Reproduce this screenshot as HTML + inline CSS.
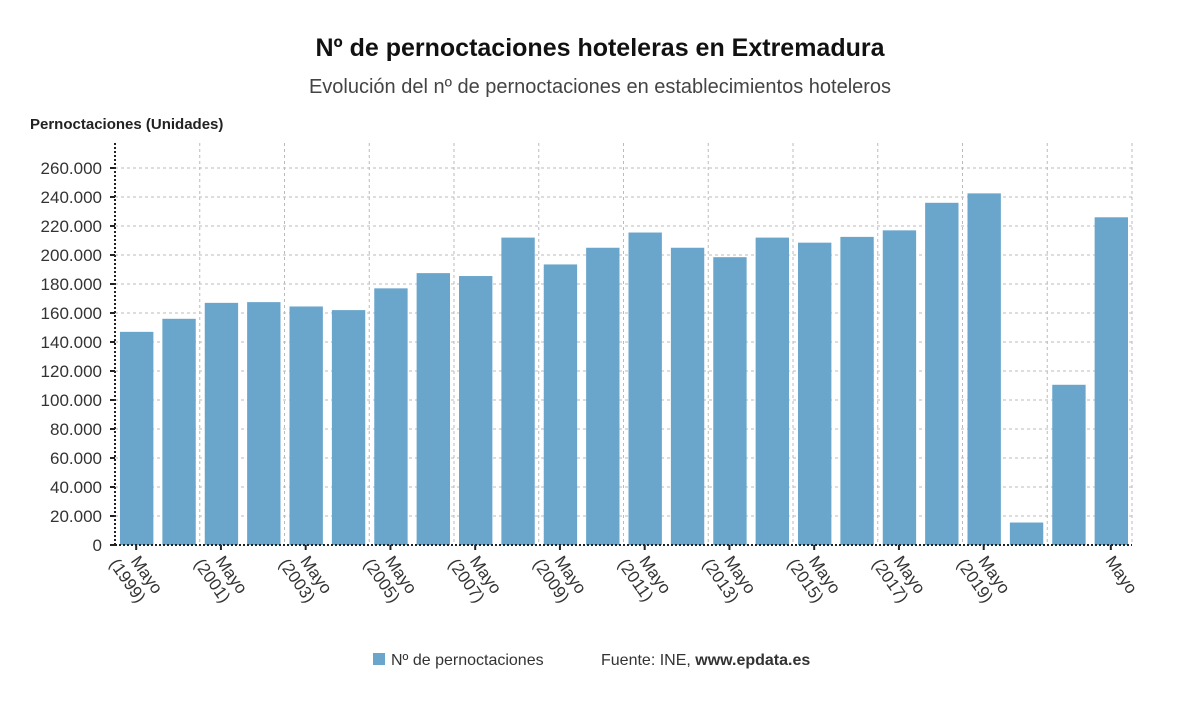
<!DOCTYPE html>
<html><head><meta charset="utf-8"><style>
body{margin:0;background:#fff;font-family:"Liberation Sans",sans-serif;}
</style></head><body>
<svg width="1200" height="705" xmlns="http://www.w3.org/2000/svg" font-family="Liberation Sans, sans-serif">
<text x="600" y="56" text-anchor="middle" font-size="25" font-weight="bold" fill="#111">Nº de pernoctaciones hoteleras en Extremadura</text>
<text x="600" y="93" text-anchor="middle" font-size="20" fill="#444">Evolución del nº de pernoctaciones en establecimientos hoteleros</text>
<text x="30" y="129" font-size="15" font-weight="bold" fill="#222">Pernoctaciones (Unidades)</text>
<g id="grid"></g><g id="bars"></g><g id="axes"></g>
<g>
<rect x="373" y="653" width="12" height="12" fill="#6aa6cb"/>
<text x="391" y="665" font-size="16" fill="#333">Nº de pernoctaciones</text>
<text x="601" y="665" font-size="16" fill="#333">Fuente: INE, <tspan font-weight="bold">www.epdata.es</tspan></text>
</g>
</svg>
<script>
const years=[1999,2000,2001,2002,2003,2004,2005,2006,2007,2008,2009,2010,2011,2012,2013,2014,2015,2016,2017,2018,2019,2020,2021,2022];
const values=[147000,156000,167000,167500,164500,162000,177000,187500,185500,212000,193500,205000,215500,205000,198500,212000,208500,212500,217000,236000,242500,15500,110500,226000];
const yTicks=[0,20000,40000,60000,80000,100000,120000,140000,160000,180000,200000,220000,240000,260000];
const NS="http://www.w3.org/2000/svg";
const x0=115,x1=1132,y0=545,yTop=143;
const band=(x1-x0)/years.length;
const y=v=>y0-v*(545-168)/260000;
const xs=i=>x0+i*band;
function mk(t,a,p){const e=document.createElementNS(NS,t);for(const k in a)e.setAttribute(k,a[k]);document.getElementById(p).appendChild(e);return e;}
const fmt=v=>v.toLocaleString('de-DE');
yTicks.forEach(v=>{
 if(v>0){const l=mk('line',{x1:x0,x2:x1,y1:y(v),y2:y(v),stroke:'#bbb','stroke-dasharray':'3,3'},'grid');
 }
 const t=mk('text',{x:102,y:y(v)+6,'text-anchor':'end','font-size':17,fill:'#333'},'axes');t.textContent=fmt(v);
 
 mk('line',{x1:x0-5,x2:x0,y1:y(v),y2:y(v),stroke:'#222','stroke-width':2},'axes');
});
for(let i=2;i<=years.length;i+=2){const l=mk('line',{x1:xs(i),x2:xs(i),y1:yTop,y2:y0,stroke:'#bbb','stroke-dasharray':'3,3'},'grid');
 }
values.forEach((v,i)=>{
 const r=mk('rect',{x:xs(i)+5,y:y(v),width:band-9,height:y0-y(v),fill:'#6aa6cb'},'bars');
 
 
});
mk('line',{x1:x0,x2:x1,y1:y0,y2:y0,stroke:'#222','stroke-width':2,'stroke-dasharray':'2,2'},'axes');
mk('line',{x1:x0,x2:x0,y1:yTop,y2:y0,stroke:'#222','stroke-width':2,'stroke-dasharray':'2,2'},'axes');
years.forEach((yr,i)=>{
 const last=i===years.length-1;
 if((i%2!==0||i>20)&&!last)return;
 const cx=xs(i)+band/2;
 mk('line',{x1:cx,x2:cx,y1:y0,y2:y0+5,stroke:'#222','stroke-width':2},'axes');
 const t=mk('text',{transform:`translate(${cx-6},${y0+16}) rotate(55)`,'font-size':17,fill:'#333'},'axes');
 
 const a=document.createElementNS(NS,'tspan');a.setAttribute('x',0);a.setAttribute('dy',0);a.textContent='Mayo';t.appendChild(a);
 if(!last){const b=document.createElementNS(NS,'tspan');b.setAttribute('x',-10);b.setAttribute('dy',19);b.textContent='('+yr+')';t.appendChild(b);}
});
</script>
</body></html>
